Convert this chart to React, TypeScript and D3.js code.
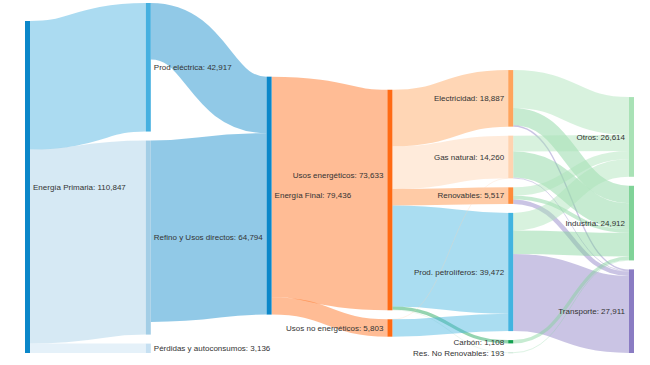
import React from "react";
import * as d3 from "d3";

const W = 650;
const H = 365;

// ---------- data ----------
const nodeNames = [
  "Energía Primaria",
  "Prod eléctrica",
  "Refino y Usos directos",
  "Pérdidas y autoconsumos",
  "Energía Final",
  "Usos energéticos",
  "Usos no energéticos",
  "Electricidad",
  "Gas natural",
  "Renovables",
  "Prod. petrolíferos",
  "Carbón",
  "Res. No Renovables",
  "Otros",
  "Industria",
  "Transporte",
];

const linkSources = [
  "Energía Primaria", "Energía Primaria", "Energía Primaria",
  "Prod eléctrica", "Refino y Usos directos",
  "Energía Final", "Energía Final",
  "Usos energéticos", "Usos energéticos", "Usos energéticos", "Usos energéticos", "Usos energéticos", "Usos energéticos",
  "Usos no energéticos", "Usos no energéticos",
  "Electricidad", "Electricidad", "Electricidad",
  "Gas natural", "Gas natural", "Gas natural",
  "Renovables", "Renovables", "Renovables",
  "Prod. petrolíferos", "Prod. petrolíferos", "Prod. petrolíferos",
  "Carbón", "Res. No Renovables",
];
const linkTargets = [
  "Prod eléctrica", "Refino y Usos directos", "Pérdidas y autoconsumos",
  "Energía Final", "Energía Final",
  "Usos energéticos", "Usos no energéticos",
  "Electricidad", "Gas natural", "Renovables", "Prod. petrolíferos", "Carbón", "Res. No Renovables",
  "Gas natural", "Prod. petrolíferos",
  "Otros", "Industria", "Transporte",
  "Otros", "Industria", "Transporte",
  "Otros", "Industria", "Transporte",
  "Otros", "Industria", "Transporte",
  "Industria", "Industria",
];
const linkValues = [
  42917, 64794, 3136,
  18887, 60549,
  73633, 5803,
  18887, 14240, 5517, 33688, 1108, 193,
  20, 5783,
  12640, 5800, 447,
  5330, 8680, 250,
  2780, 1237, 1500,
  5864, 7894, 25714,
  1108, 193,
];

// ---------- styles ----------
const nodeColors: Record<string, string> = {
  "Energía Primaria": "#0b87c9",
  "Prod eléctrica": "#45b0e0",
  "Refino y Usos directos": "#a3cee6",
  "Pérdidas y autoconsumos": "#c6e0f2",
  "Energía Final": "#0b87c9",
  "Usos energéticos": "#ff6a13",
  "Usos no energéticos": "#ff6a13",
  "Electricidad": "#ffa45c",
  "Gas natural": "#ffd3b0",
  "Renovables": "#ff8c3a",
  "Prod. petrolíferos": "#42b4e0",
  "Carbón": "#12a050",
  "Res. No Renovables": "#b9dcc6",
  "Otros": "#a9e2b6",
  "Industria": "#80d398",
  "Transporte": "#8a7cc3",
};

const EXTENT = { x0: 25, y0: 3, x1: 634, y1: 353 };
const NODE_W = 5;
const NODE_PAD = 9;
const ITER = 32;
const FONT = 8;

type N = {
  name: string; index: number; sourceLinks: L[]; targetLinks: L[];
  value: number; depth: number; x0: number; x1: number; y0: number; y1: number;
};
type L = { source: N; target: N; value: number; index: number; width: number; y0: number; y1: number };

function layout() {
  const nodes: N[] = nodeNames.map((name, i) => ({
    name, index: i, sourceLinks: [], targetLinks: [], value: 0, depth: 0, x0: 0, x1: 0, y0: 0, y1: 0,
  }));
  const byName = new Map(nodes.map((n) => [n.name, n]));
  const links: L[] = linkValues.map((v, i) => {
    const l: L = { source: byName.get(linkSources[i])!, target: byName.get(linkTargets[i])!, value: v, index: i, width: 0, y0: 0, y1: 0 };
    l.source.sourceLinks.push(l);
    l.target.targetLinks.push(l);
    return l;
  });
  for (const n of nodes) {
    n.value = Math.max(d3.sum(n.sourceLinks, (l) => l.value), d3.sum(n.targetLinks, (l) => l.value));
  }
  // depths (left aligned)
  let current: N[] = nodes;
  let x = 0;
  while (current.length) {
    const next: N[] = [];
    for (const n of current) {
      n.depth = x;
      for (const l of n.sourceLinks) if (next.indexOf(l.target) < 0) next.push(l.target);
    }
    x++;
    current = next;
  }
  const nCols = (d3.max(nodes, (d) => d.depth) as number) + 1;
  const xScale = d3.scalePoint<number>().domain(d3.range(nCols)).range([EXTENT.x0, EXTENT.x1 - NODE_W]);
  const columns: N[][] = d3.range(nCols).map(() => []);
  for (const n of nodes) {
    n.x0 = xScale(n.depth)!;
    n.x1 = n.x0 + NODE_W;
    columns[n.depth].push(n);
  }
  const { y0, y1 } = EXTENT;
  const py = NODE_PAD;
  const ky = d3.min(columns, (c) => (y1 - y0 - (c.length - 1) * py) / d3.sum(c, (d) => d.value)) as number;

  columns.forEach((col) => col.forEach((n, i) => { n.y0 = i; n.y1 = i + n.value * ky; }));
  links.forEach((l) => { l.width = l.value * ky; });

  const center = (n: N) => (n.y0 + n.y1) / 2;

  // collisions resolved keeping the input order of each column
  const resolveCollisions = () => {
    for (const col of columns) {
      let y = y0;
      let node: N = col[0];
      for (let i = 0; i < col.length; ++i) {
        node = col[i];
        const dy = y - node.y0;
        if (dy > 0) { node.y0 += dy; node.y1 += dy; }
        y = node.y1 + py;
      }
      let dy = y - py - y1;
      if (dy > 0) {
        node.y0 -= dy; node.y1 -= dy;
        y = node.y0;
        for (let i = col.length - 2; i >= 0; --i) {
          const n = col[i];
          dy = n.y1 + py - y;
          if (dy > 0) { n.y0 -= dy; n.y1 -= dy; }
          y = n.y0;
        }
      }
    }
  };
  const relaxLeftToRight = (alpha: number) => {
    for (const col of columns) for (const n of col) {
      if (n.targetLinks.length) {
        const dy = (d3.sum(n.targetLinks, (l) => center(l.source) * l.value) / d3.sum(n.targetLinks, (l) => l.value) - center(n)) * alpha;
        n.y0 += dy; n.y1 += dy;
      }
    }
  };
  const relaxRightToLeft = (alpha: number) => {
    for (const col of columns.slice().reverse()) for (const n of col) {
      if (n.sourceLinks.length) {
        const dy = (d3.sum(n.sourceLinks, (l) => center(l.target) * l.value) / d3.sum(n.sourceLinks, (l) => l.value) - center(n)) * alpha;
        n.y0 += dy; n.y1 += dy;
      }
    }
  };

  resolveCollisions();
  let alpha = 1;
  for (let it = ITER; it > 0; --it) {
    alpha *= 0.99;
    relaxRightToLeft(alpha);
    resolveCollisions();
    relaxLeftToRight(alpha);
    resolveCollisions();
  }

  for (const n of nodes) {
    n.sourceLinks.sort((a, b) => a.target.y0 - b.target.y0);
    n.targetLinks.sort((a, b) => a.source.y0 - b.source.y0);
  }
  for (const n of nodes) {
    let a = n.y0, b = n.y0;
    for (const l of n.sourceLinks) { l.y0 = a + l.width / 2; a += l.width; }
    for (const l of n.targetLinks) { l.y1 = b + l.width / 2; b += l.width; }
  }
  return { nodes, links };
}

const fmt = d3.format(",");

type Lab = { key: number; text: string; x: number; y: number; left: boolean; n: N };

function placeLabels(nodes: N[]): Lab[] {
  const labs: Lab[] = nodes.map((n) => {
    const left = n.x0 < W / 2;
    return {
      key: n.index,
      text: `${n.name}: ${fmt(n.value)}`,
      x: left ? n.x1 + 3 : n.x0 - 4,
      y: (n.y0 + n.y1) / 2,
      left,
      n,
    };
  });
  const approxW = (t: string) => t.length * FONT * 0.5;
  const ext = (l: Lab) => (l.left ? [l.x, l.x + approxW(l.text)] : [l.x - approxW(l.text), l.x]);
  // nudge an end-anchored label upward if it collides with a start-anchored one
  for (const a of labs) {
    if (a.left) continue;
    for (const b of labs) {
      if (!b.left) continue;
      const [a0, a1] = ext(a);
      const [b0, b1] = ext(b);
      if (a0 < b1 && b0 < a1 && Math.abs(a.y - b.y) < FONT + 2) {
        const target = b.y - 2.6 * FONT;
        if (target > a.n.y0 + FONT) a.y = target;
      }
    }
  }
  return labs;
}

export default function App() {
  const { nodes, links } = React.useMemo(layout, []);
  const labels = placeLabels(nodes);
  const linkPath = d3
    .linkHorizontal<L, [number, number]>()
    .source((d) => [d.source.x1, d.y0])
    .target((d) => [d.target.x0, d.y1]);

  return (
    <svg
      width={W}
      height={H}
      style={{ position: "absolute", left: 0, top: 0, background: "#fff" }}
      fontFamily="'Liberation Sans', Arial, sans-serif"
    >
      <g fill="none">
        {links.map((l) => (
          <path
            key={l.index}
            d={linkPath(l) || ""}
            stroke={nodeColors[l.target.name]}
            strokeOpacity={0.45}
            strokeWidth={Math.max(0.6, l.width)}
          />
        ))}
      </g>
      <g>
        {nodes.map((n) => (
          <rect
            key={n.index}
            x={n.x0}
            y={n.y0}
            width={n.x1 - n.x0}
            height={Math.max(0.8, n.y1 - n.y0)}
            fill={nodeColors[n.name]}
          />
        ))}
      </g>
      <g fontSize={FONT} fill="#333">
        {labels.map((l) => (
          <text key={l.key} x={l.x} y={l.y} dy="0.35em" textAnchor={l.left ? "start" : "end"}>
            {l.text}
          </text>
        ))}
      </g>
    </svg>
  );
}
